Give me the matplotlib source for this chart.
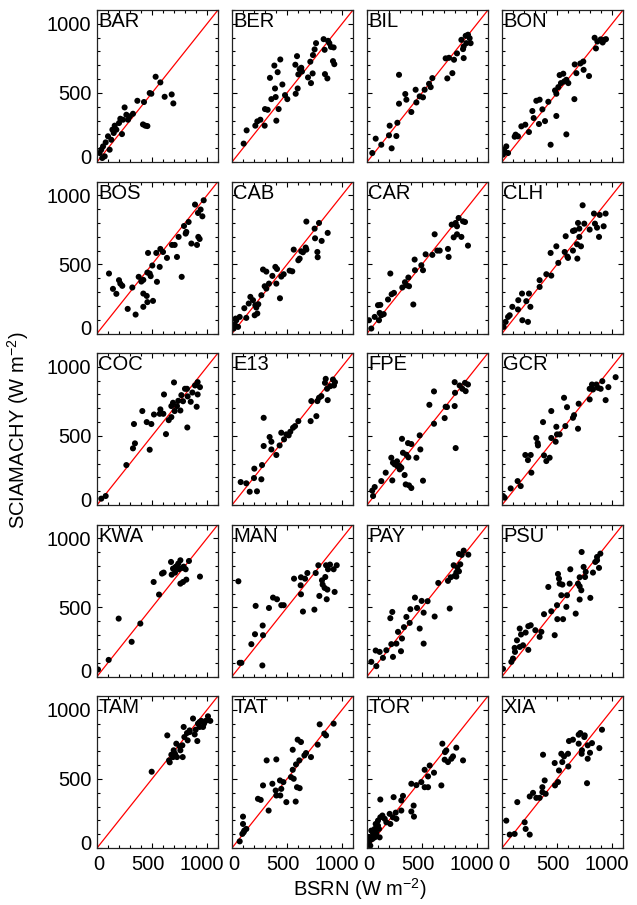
import matplotlib
matplotlib.use("Agg")
import matplotlib.pyplot as plt
from matplotlib.transforms import ScaledTranslation
import numpy as np

plt.rcParams["font.family"] = ["Liberation Sans", "DejaVu Sans"]
plt.rcParams["mathtext.default"] = "regular"

# station codes in panel order (row by row)
stations = ["BAR", "BER", "BIL", "BON",
            "BOS", "CAB", "CAR", "CLH",
            "COC", "E13", "FPE", "GCR",
            "KWA", "MAN", "PAY", "PSU",
            "TAM", "TAT", "TOR", "XIA"]

# BSRN (x) vs SCIAMACHY (y) surface irradiance, W m-2
bar_x = [533, 576, 494, 479, 615, 679, 694, 418, 439, 458, 367, 427, 251, 212, 267, 297, 327, 236,
         161, 140, 176, 227, 100, 79, 55, 39, 24, 70, 115, 48, 130, 152, 282, 200]
bar_y = [617, 576, 494, 499, 472, 489, 424, 272, 263, 260, 443, 434, 395, 313, 342, 330, 349, 306,
         263, 234, 234, 202, 186, 142, 113, 89, 65, 41, 89, 29, 161, 210, 306, 282]

ber_x = [106, 133, 230, 258, 212, 297, 300, 324, 403, 424, 358, 397, 391, 458, 345, 385, 415, 439,
         482, 503, 579, 597, 576, 591, 615, 630, 636, 603, 691, 718, 733, 712, 736, 751, 764, 833,
         873, 842, 900, 924, 918, 930, 845, 867, 885]
ber_y = [133, 229, 294, 306, 263, 263, 383, 378, 299, 383, 455, 470, 532, 561, 609, 698, 650, 742,
         484, 455, 494, 532, 704, 766, 672, 682, 655, 634, 612, 571, 641, 726, 774, 815, 860, 889,
         877, 812, 833, 829, 730, 708, 636, 605, 860]

bil_x = [48, 79, 130, 200, 224, 267, 206, 276, 291, 291, 348, 358, 403, 449, 442, 479, 509, 524,
         564, 579, 594, 730, 776, 715, 745, 791, 818, 879, 873, 858, 903, 933, 942, 897, 918, 879]
bil_y = [65, 169, 125, 193, 99, 188, 263, 284, 422, 631, 492, 451, 362, 431, 523, 475, 468, 523,
         566, 542, 607, 605, 643, 750, 754, 740, 786, 752, 817, 884, 860, 896, 860, 913, 921, 836]

bon_x = [9, 24, 39, 15, 55, 124, 115, 145, 176, 212, 245, 276, 288, 312, 336, 342, 367, 391, 421,
         442, 494, 482, 494, 512, 524, 536, 557, 566, 585, 585, 603, 658, 661, 676, 712, 739, 742,
         791, 842, 854, 897, 930, 945, 915, 867]
bon_y = [53, 77, 113, 89, 65, 198, 183, 186, 258, 270, 217, 369, 318, 443, 275, 451, 381, 296, 436,
         125, 333, 518, 494, 542, 629, 571, 639, 583, 595, 200, 571, 455, 706, 643, 713, 727, 667,
         622, 899, 822, 887, 884, 889, 865, 872]

bos_x = [109, 145, 176, 200, 212, 230, 279, 351, 321, 379, 403, 421, 421, 452, 421, 458, 509, 458,
         479, 488, 503, 570, 545, 464, 539, 576, 600, 636, 682, 706, 727, 770, 742, 791, 833, 812,
         858, 909, 921, 933, 918, 891, 942, 958, 970, 806]
bos_y = [434, 323, 287, 386, 361, 345, 178, 137, 333, 410, 376, 388, 289, 272, 193, 227, 236, 441,
         434, 415, 492, 482, 374, 583, 583, 612, 590, 547, 641, 641, 554, 410, 699, 778, 807, 735,
         651, 641, 699, 684, 872, 933, 897, 848, 964, 723]

cab_x = [24, 39, 55, 15, 70, 33, 112, 130, 152, 167, 191, 212, 206, 221, 230, 239, 267, 297, 312,
         336, 282, 312, 367, 394, 409, 436, 403, 448, 470, 524, 548, 603, 615, 561, 630, 670, 676,
         751, 791, 755, 815, 870, 776, 779, 645, 676]
cab_y = [67, 96, 48, 36, 120, 108, 183, 113, 217, 265, 241, 205, 132, 188, 145, 212, 277, 342, 325,
         361, 463, 448, 417, 482, 467, 255, 361, 412, 429, 455, 450, 530, 542, 607, 595, 622, 810,
         759, 800, 689, 670, 728, 590, 552, 588, 607]

car_x = [18, 39, 70, 109, 100, 115, 130, 152, 121, 191, 224, 245, 212, 321, 345, 358, 376, 382,
         421, 436, 433, 494, 509, 533, 594, 615, 639, 661, 736, 742, 770, 806, 833, 788, 818, 858,
         873, 891, 918, 818]
car_y = [96, 36, 120, 96, 205, 149, 132, 140, 207, 246, 284, 294, 434, 333, 371, 349, 405, 342,
         210, 458, 535, 494, 458, 573, 569, 718, 600, 600, 612, 554, 788, 800, 836, 696, 718, 699,
         812, 807, 636, 776]

clh_x = [15, 33, 55, 70, 94, 148, 182, 245, 258, 185, 236, 221, 145, 342, 342, 403, 448, 442, 494,
         512, 570, 600, 594, 579, 645, 661, 682, 685, 691, 703, 718, 733, 748, 797, 836, 845, 864,
         882, 888, 924, 942, 703, 645]
clh_y = [48, 84, 120, 132, 193, 241, 289, 289, 193, 96, 84, 234, 174, 337, 386, 429, 419, 583, 631,
         511, 590, 547, 557, 704, 600, 747, 646, 542, 800, 699, 631, 928, 795, 752, 868, 795, 766,
         699, 858, 776, 868, 759, 742]

coc_x = [39, 79, 267, 327, 345, 336, 412, 479, 452, 494, 518, 576, 570, 603, 609, 627, 652, 676,
         700, 691, 706, 727, 758, 767, 782, 800, 821, 824, 852, 867, 891, 915, 915, 906, 936, 818,
         739, 676]
coc_y = [46, 65, 289, 410, 446, 586, 680, 400, 600, 586, 655, 692, 660, 660, 800, 513, 614, 636,
         887, 740, 680, 716, 684, 795, 751, 841, 561, 786, 747, 814, 865, 889, 800, 711, 853, 841,
         754, 716]

e13_x = [79, 130, 161, 227, 200, 203, 267, 273, 288, 288, 342, 358, 358, 403, 433, 448, 473, 494,
         515, 530, 555, 573, 603, 715, 721, 767, 776, 791, 812, 870, 845, 852, 864, 894, 927, 918,
         936]
e13_y = [166, 157, 96, 99, 195, 263, 186, 289, 427, 631, 492, 458, 402, 362, 431, 523, 475, 511,
         504, 530, 559, 571, 607, 607, 752, 643, 752, 776, 788, 759, 884, 913, 841, 860, 865, 908,
         889]

fpe_x = [55, 70, 48, 130, 170, 230, 221, 236, 252, 276, 297, 312, 327, 318, 342, 358, 373, 376,
         403, 352, 382, 403, 449, 485, 479, 509, 567, 609, 609, 706, 727, 715, 797, 806, 800, 797,
         842, 891, 897, 918, 867, 297, 273]
fpe_y = [65, 130, 104, 173, 234, 178, 342, 306, 294, 282, 258, 270, 378, 479, 217, 364, 448, 345,
         441, 149, 142, 123, 342, 402, 504, 176, 725, 822, 588, 629, 709, 711, 716, 412, 812, 889,
         865, 884, 824, 872, 841, 282, 316]

gcr_x = [9, 24, 79, 142, 170, 267, 212, 236, 261, 312, 327, 324, 373, 382, 403, 433, 448, 448, 488,
         494, 500, 524, 564, 576, 591, 645, 655, 691, 697, 797, 818, 827, 858, 897, 912, 942, 967,
         1033, 797, 873]
gcr_y = [65, 53, 120, 173, 137, 234, 362, 325, 362, 485, 431, 448, 600, 359, 318, 342, 680, 485,
         458, 566, 511, 511, 776, 571, 708, 631, 650, 552, 733, 764, 872, 836, 872, 841, 896, 759,
         853, 925, 841, 848]

kwa_x = [9, 106, 197, 315, 394, 515, 564, 591, 606, 673, 679, 691, 715, 727, 739, 758, 776, 806,
         836, 758, 782, 812, 936, 709, 745, 788]
kwa_y = [51, 120, 419, 251, 383, 684, 593, 745, 752, 829, 737, 781, 793, 800, 817, 841, 786, 776,
         836, 672, 684, 701, 723, 752, 776, 795]

man_x = [58, 70, 85, 176, 209, 215, 276, 279, 282, 336, 373, 409, 448, 470, 564, 624, 627, 627,
         645, 664, 685, 749, 761, 785, 794, 818, 824, 848, 855, 861, 842, 867, 873, 891, 933, 924,
         952]
man_y = [689, 99, 99, 234, 306, 511, 80, 369, 299, 496, 571, 559, 516, 516, 708, 660, 718, 595,
         470, 708, 749, 484, 749, 805, 583, 696, 665, 720, 805, 559, 641, 629, 776, 810, 612, 776,
         805]

pay_x = [39, 79, 85, 115, 145, 176, 221, 236, 267, 282, 309, 318, 212, 230, 336, 358, 388, 394,
         436, 455, 479, 497, 515, 515, 551, 615, 648, 736, 752, 761, 788, 797, 812, 821, 836, 848,
         836, 861, 879, 921, 812]
pay_y = [106, 188, 75, 178, 135, 190, 234, 142, 238, 323, 183, 275, 422, 467, 357, 431, 388, 487,
         571, 496, 347, 547, 238, 462, 545, 434, 677, 692, 492, 718, 805, 728, 752, 788, 761, 812,
         887, 880, 911, 882, 723]

psu_x = [9, 85, 100, 118, 115, 136, 161, 173, 161, 191, 239, 215, 239, 261, 303, 342, 358, 382,
         421, 448, 479, 500, 509, 518, 524, 549, 503, 555, 539, 585, 591, 615, 621, 670, 691, 706,
         706, 721, 706, 724, 742, 755, 761, 803, 827, 864, 864, 882, 894, 848]
psu_y = [55, 106, 130, 178, 207, 262, 347, 304, 214, 226, 193, 318, 364, 371, 335, 287, 323, 451,
         648, 472, 299, 516, 742, 708, 672, 665, 415, 415, 588, 504, 588, 672, 776, 455, 672, 653,
         557, 624, 718, 901, 793, 720, 757, 569, 752, 841, 865, 786, 889, 829]

tam_x = [497, 639, 661, 655, 676, 691, 709, 727, 721, 758, 779, 788, 776, 818, 824, 842, 873, 888,
         912, 918, 933, 964, 988, 1009, 1030, 948, 973, 897, 697, 752, 794, 842, 933]
tam_y = [552, 815, 620, 634, 675, 658, 682, 658, 755, 707, 658, 876, 743, 832, 779, 839, 937, 822,
         774, 900, 912, 876, 920, 953, 920, 920, 900, 856, 707, 735, 803, 851, 876]

tat_x = [70, 94, 106, 130, 100, 100, 112, 236, 261, 282, 333, 367, 397, 403, 439, 448, 436, 315,
         403, 494, 536, 561, 579, 552, 591, 615, 552, 582, 612, 597, 627, 673, 718, 779, 797, 839,
         855, 924, 658, 467]
tat_y = [48, 102, 114, 138, 174, 227, 126, 356, 348, 453, 271, 465, 416, 380, 380, 428, 489, 634,
         641, 332, 513, 501, 336, 711, 440, 433, 566, 605, 634, 784, 767, 687, 658, 748, 895, 828,
         815, 900, 670, 477]

tor_x = [9, 18, 24, 39, 55, 70, 79, 100, 115, 121, 140, 161, 30, 48, 85, 109, 206, 212, 236, 261,
         267, 312, 121, 242, 312, 327, 403, 424, 427, 403, 449, 494, 524, 555, 524, 570, 555, 609,
         676, 685, 709, 706, 736, 767, 782, 812, 873, 721, 70, 100, 176]
tor_y = [29, 77, 53, 126, 102, 138, 174, 198, 77, 222, 235, 211, 17, 65, 106, 138, 247, 174, 222,
         256, 211, 271, 351, 368, 344, 377, 264, 307, 227, 465, 455, 477, 440, 440, 566, 597, 518,
         545, 453, 755, 694, 639, 622, 646, 663, 726, 634, 706, 77, 162, 186]

xia_x = [39, 70, 115, 139, 206, 215, 252, 252, 282, 312, 342, 367, 367, 388, 397, 373, 479, 482,
         509, 518, 539, 548, 564, 600, 603, 609, 645, 697, 712, 697, 727, 752, 773, 779, 779, 800,
         818, 885, 909, 724, 748]
xia_y = [198, 97, 102, 332, 186, 138, 97, 373, 399, 363, 363, 440, 404, 489, 392, 675, 615, 453,
         477, 561, 682, 622, 663, 682, 590, 774, 784, 820, 832, 755, 707, 815, 469, 646, 743, 689,
         759, 723, 856, 682, 803]

xs = [bar_x, ber_x, bil_x, bon_x, bos_x, cab_x, car_x, clh_x, coc_x, e13_x,
      fpe_x, gcr_x, kwa_x, man_x, pay_x, psu_x, tam_x, tat_x, tor_x, xia_x]
ys = [bar_y, ber_y, bil_y, bon_y, bos_y, cab_y, car_y, clh_y, coc_y, e13_y,
      fpe_y, gcr_y, kwa_y, man_y, pay_y, psu_y, tam_y, tat_y, tor_y, xia_y]

W, H = 637, 905
fig = plt.figure(figsize=(W / 100, H / 100), dpi=100)

# panel grid in pixels
col_left = [97, 232, 367, 502]
row_top = [10, 181.5, 353, 524.5, 696]
pw, ph = 121, 152
lim = 1100

# nudge tick labels a little (pixels) so neighbouring panels don't collide
x_shift = [2, -4, -5]
y_shift = [6, 0, 0]

for i, name in enumerate(stations):
    r, c = divmod(i, 4)
    ax = fig.add_axes([col_left[c] / W, (H - row_top[r] - ph) / H, pw / W, ph / H])
    ax.plot([0, lim], [0, lim], color="red", lw=0.9, zorder=1)
    ax.scatter(xs[i], ys[i], s=19, color="black", edgecolors="none", zorder=2)
    ax.set_xlim(0, lim)
    ax.set_ylim(0, lim)
    ax.set_xticks([0, 500, 1000])
    ax.set_yticks([0, 500, 1000])
    ax.set_xticks(np.arange(0, lim + 1, 100), minor=True)
    ax.set_yticks(np.arange(0, lim + 1, 100), minor=True)
    ax.tick_params(which="both", direction="in", top=True, right=True,
                   labelsize=14.5, width=0.8)
    ax.tick_params(which="major", length=3.5, pad=4)
    ax.tick_params(which="minor", length=2)
    ax.tick_params(axis="x", pad=5)
    if c != 0:
        ax.tick_params(labelleft=False)
    if r != 4:
        ax.tick_params(labelbottom=False)
    for sp in ax.spines.values():
        sp.set_linewidth(0.9)
        sp.set_color("#222222")
    ax.text(0.01, 0.985, name, transform=ax.transAxes, ha="left", va="top",
            fontsize=14.5)
    for lab, dx in zip(ax.get_xticklabels(), x_shift):
        lab.set_transform(lab.get_transform() + ScaledTranslation(dx / 100, 0, fig.dpi_scale_trans))
    for lab, dy in zip(ax.get_yticklabels(), y_shift):
        lab.set_transform(lab.get_transform() + ScaledTranslation(0, dy / 100, fig.dpi_scale_trans))

fig.text(18 / W, 1 - 430 / H, "SCIAMACHY (W m$^{-2}$)", rotation=90,
         ha="center", va="center", fontsize=14.5)
fig.text(360 / W, 1 - 889 / H, "BSRN (W m$^{-2}$)", ha="center", va="center",
         fontsize=14.5)

plt.savefig("out.png", dpi=100)
